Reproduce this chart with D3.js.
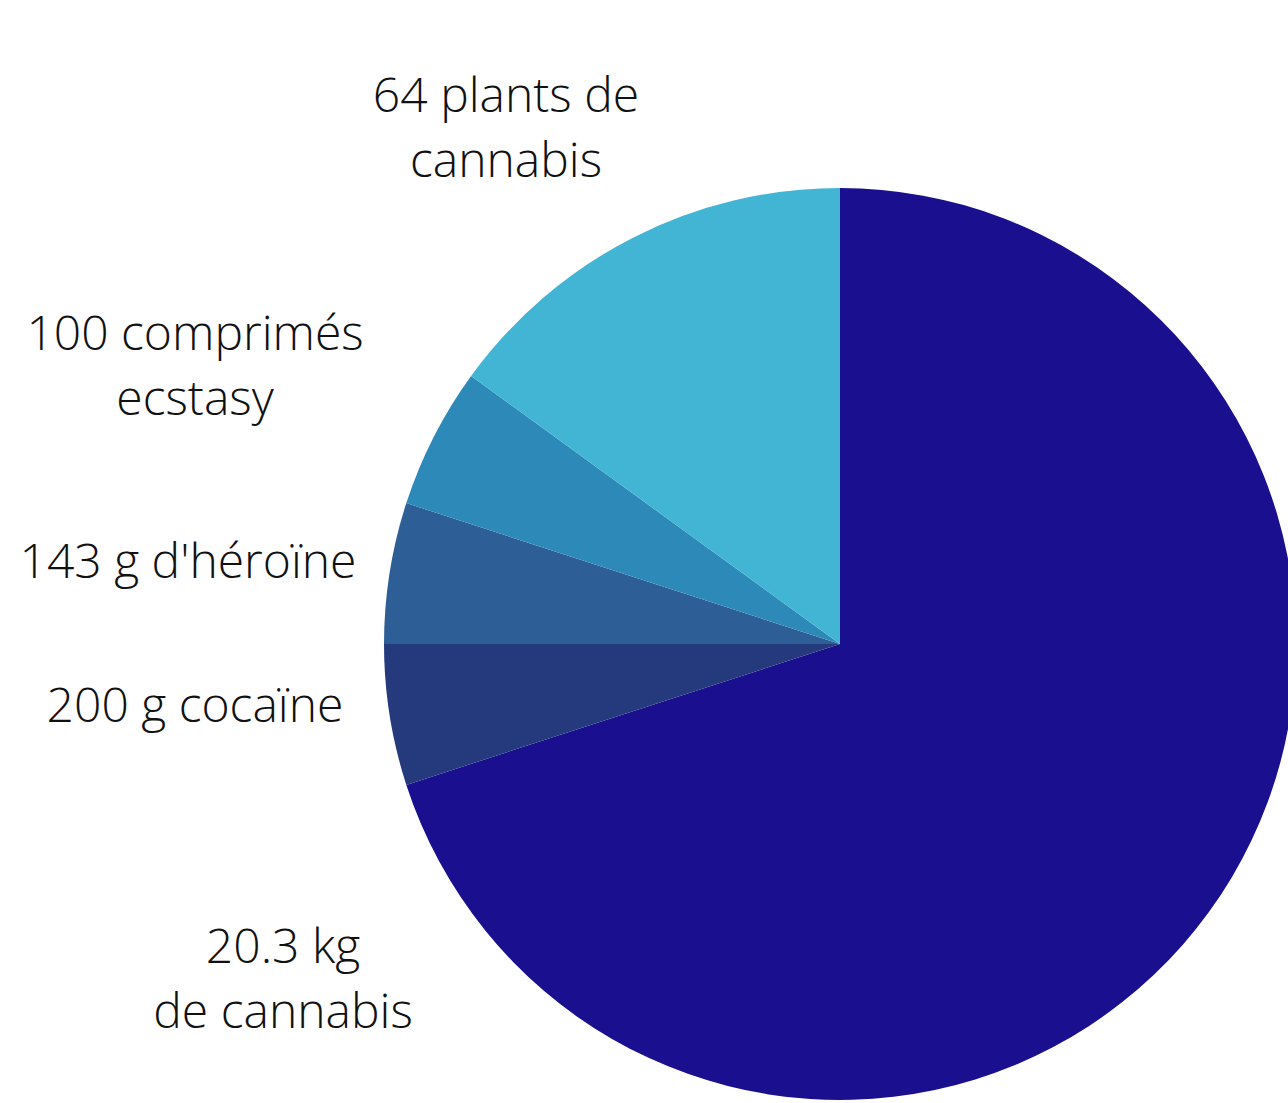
<!DOCTYPE html>
<html>
<head>
<meta charset="UTF-8" />
<title>Saisies</title>
<script src="https://cdn.jsdelivr.net/npm/d3@7"></script>
<style>
body {
    margin: 0;
    background-color: #fff;
}
.labels text {
    font-family: "Open Sans", sans-serif;
    font-weight: 300;
    font-size: 48px;
    fill: #111;
    text-anchor: middle;
}
</style>
</head>
<body>
<svg id="chart" width="1288" height="1103"></svg>
<script>
// data, clockwise from 12 o'clock
var labels = [
    ["20.3 kg", "de cannabis"],
    ["200 g cocaïne"],
    ["143 g d'héroïne"],
    ["100 comprimés", "ecstasy"],
    ["64 plants de", "cannabis"]
];
var values = [70, 5, 5, 5, 15];
var colors = ["#1a0f8f", "#25397d", "#2e5e96", "#2d8ab8", "#42b5d5"];

// where each label block sits (x center, first baseline)
var labelPos = [[283, 963], [195, 722], [188, 578], [195, 350], [506, 112]];
var lineHeight = 65;

var svg = d3.select("#chart"),
    cx = 840, cy = 644, radius = 456;

var pie = d3.pie().sort(null).value(function(d) { return d; });
var arc = d3.arc().innerRadius(0).outerRadius(radius);

var g = svg.append("g").attr("transform", "translate(" + cx + "," + cy + ")");

g.selectAll("path").data(pie(values))
    .enter().append("path")
    .attr("d", arc)
    .attr("fill", function(d, i) { return colors[i]; });

var lab = svg.append("g").attr("class", "labels").selectAll("text").data(labels)
    .enter().append("text")
    .attr("x", function(d, i) { return labelPos[i][0]; })
    .attr("y", function(d, i) { return labelPos[i][1]; });

lab.selectAll("tspan").data(function(d, i) { return d.map(function(t) { return {t: t, i: i}; }); })
    .enter().append("tspan")
    .attr("x", function(d) { return labelPos[d.i][0]; })
    .attr("dy", function(d, j) { return j == 0 ? 0 : lineHeight; })
    .text(function(d) { return d.t; });
</script>
</body>
</html>
